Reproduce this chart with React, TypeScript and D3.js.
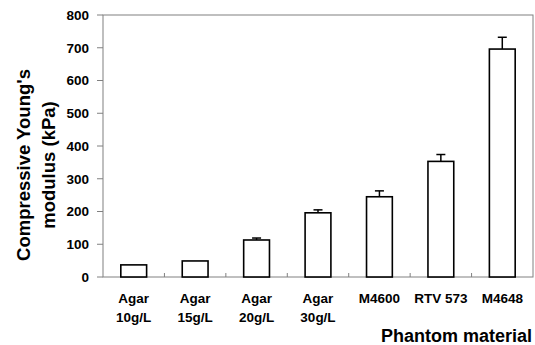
import { scaleBand, scaleLinear } from "d3";

const WIDTH = 535;
const HEIGHT = 345;
const M = { top: 15, right: 2, bottom: 68, left: 103 };

const categories = ["Agar 10g/L", "Agar 15g/L", "Agar 20g/L", "Agar 30g/L", "M4600", "RTV 573", "M4648"];
const labelLines = [["Agar", "10g/L"], ["Agar", "15g/L"], ["Agar", "20g/L"], ["Agar", "30g/L"], ["M4600"], ["RTV 573"], ["M4648"]];
const modulus = [37, 49, 113, 196, 245, 353, 696];
const errors = [0, 0, 6, 9, 18, 21, 36];
const yTicks = [0, 100, 200, 300, 400, 500, 600, 700, 800];

const FONT = "'Liberation Sans', Arial, Helvetica, sans-serif";
const AXIS = "#808080";

export default function App() {
  const x = scaleBand().domain(categories).range([M.left, WIDTH - M.right]).padding(0);
  const y = scaleLinear().domain([0, 800]).range([HEIGHT - M.bottom, M.top]);
  const barW = x.bandwidth() * 0.42;
  const x0 = M.left;
  const x1 = WIDTH - M.right;
  const yb = y(0);
  const yt = y(800);

  return (
    <div style={{ position: "absolute", left: 0, top: 0 }}>
      <svg width={WIDTH} height={HEIGHT} viewBox={`0 0 ${WIDTH} ${HEIGHT}`} style={{ display: "block", background: "#fff" }} fontFamily={FONT} fontWeight="bold">
        {/* frame */}
        <rect x={x0} y={yt} width={x1 - x0} height={yb - yt} fill="none" stroke={AXIS} strokeWidth={1} />

        {yTicks.map((t) => (
          <g key={t}>
            <line x1={x0 - 6} x2={x0} y1={y(t)} y2={y(t)} stroke={AXIS} />
            <text x={x0 - 14} y={y(t)} dy="0.36em" textAnchor="end" fontSize={13.5} fill="#000">{t}</text>
          </g>
        ))}

        {categories.slice(1).map((c) => (
          <line key={c} x1={x(c)} x2={x(c)} y1={yb} y2={yb - 4} stroke={AXIS} />
        ))}

        {categories.map((c, i) => {
          const cx = (x(c) ?? 0) + x.bandwidth() / 2;
          const top = y(modulus[i]);
          const errTop = y(modulus[i] + errors[i]);
          return (
            <g key={c}>
              {errors[i] > 0 ? (
                <g stroke="#000" strokeWidth={1.5}>
                  <line x1={cx} x2={cx} y1={top} y2={errTop} />
                  <line x1={cx - 4.5} x2={cx + 4.5} y1={errTop} y2={errTop} />
                </g>
              ) : null}
              <rect x={cx - barW / 2} y={top} width={barW} height={yb - top} fill="#fff" stroke="#000" strokeWidth={1.6} />
              {labelLines[i].map((ln, j) => (
                <text key={j} x={cx} y={303 + j * 19} textAnchor="middle" fontSize={13.5} fill="#000">{ln}</text>
              ))}
            </g>
          );
        })}

        <text transform="translate(30,165) rotate(-90)" textAnchor="middle" fontSize={18.5} fill="#000">Compressive Young's</text>
        <text transform="translate(55,165) rotate(-90)" textAnchor="middle" fontSize={18.5} fill="#000">modulus (kPa)</text>
        <text x={532} y={342} textAnchor="end" fontSize={18} fill="#000">Phantom material</text>
      </svg>
    </div>
  );
}
